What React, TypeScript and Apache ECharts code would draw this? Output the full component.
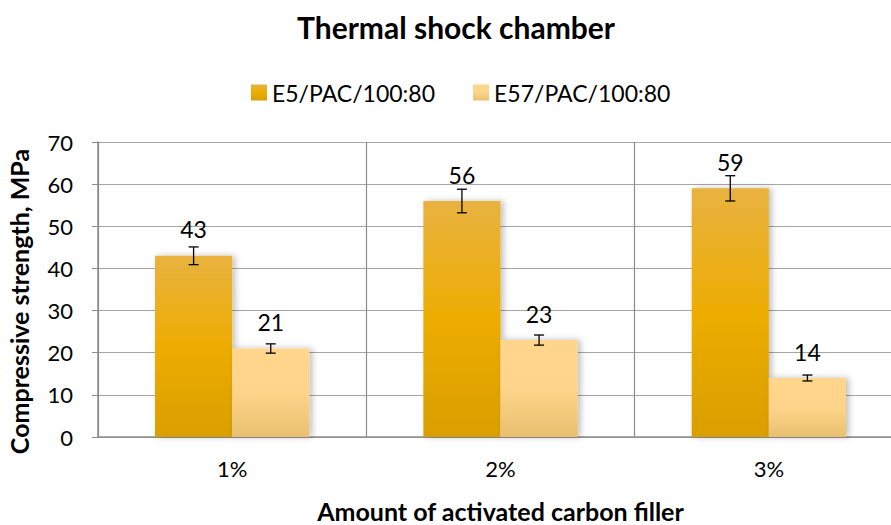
import React, { useEffect, useRef } from "react";
import * as echarts from "echarts";

const categories = ["1%", "2%", "3%"];
const seriesNames = ["E5/PAC/100:80", "E57/PAC/100:80"];
const e5Values = [43, 56, 59];
const e57Values = [21, 23, 14];
const e5Errors = [2.1, 2.8, 3.0];
const e57Errors = [1.1, 1.2, 0.7];
const yTicks = { min: 0, max: 70, interval: 10 };

const FONT = "Lato, 'Open Sans', sans-serif";

const darkGrad = () =>
  new echarts.graphic.LinearGradient(0, 0, 0, 1, [
    { offset: 0, color: "#E8B23F" },
    { offset: 0.5, color: "#EDAD02" },
    { offset: 1, color: "#D99F00" },
  ]);
const lightGrad = () =>
  new echarts.graphic.LinearGradient(0, 0, 0, 1, [
    { offset: 0, color: "#FFD68C" },
    { offset: 0.5, color: "#FED48A" },
    { offset: 1, color: "#E9BF6F" },
  ]);

const CAT_GAP = 0.425;

function errorSeries(values: number[], errs: number[], idx: number) {
  return {
    type: "custom",
    z: 10,
    silent: true,
    data: values.map((v, i) => [i, v, errs[i]]),
    renderItem: (params: any, api: any) => {
      const ci = api.value(0);
      const v = api.value(1);
      const e = api.value(2);
      const band = api.size([1, 0])[0];
      const bw = (band * (1 - CAT_GAP)) / 2;
      const offset = idx === 0 ? -bw / 2 : bw / 2;
      const hi = api.coord([ci, v + e]);
      const lo = api.coord([ci, v - e]);
      const x = hi[0] + offset;
      const cap = 5;
      const style = { stroke: "#000", lineWidth: 1.3 };
      return {
        type: "group",
        children: [
          { type: "line", shape: { x1: x, y1: hi[1], x2: x, y2: lo[1] }, style },
          { type: "line", shape: { x1: x - cap, y1: hi[1], x2: x + cap, y2: hi[1] }, style },
          { type: "line", shape: { x1: x - cap, y1: lo[1], x2: x + cap, y2: lo[1] }, style },
        ],
      };
    },
  };
}

export default function App() {
  const ref = useRef<HTMLDivElement>(null);
  useEffect(() => {
    if (!ref.current) return;
    const chart = echarts.init(ref.current, null, { renderer: "svg" });
    const barLabel = {
      show: true,
      position: "top",
      distance: 15,
      fontSize: 23,
      color: "#000",
      fontFamily: FONT,
    };
    chart.setOption({
      animation: false,
      backgroundColor: "#fff",
      textStyle: { fontFamily: FONT },
      title: {
        text: "Thermal shock chamber",
        left: 292,
        top: 7,
        textStyle: { fontFamily: FONT, fontSize: 30, fontWeight: "bold", color: "#000" },
      },
      legend: {
        top: 76,
        left: 246,
        itemWidth: 16,
        itemHeight: 16,
        itemGap: 38,
        icon: "rect",
        textStyle: { fontFamily: FONT, fontSize: 23, color: "#000" },
        data: seriesNames,
      },
      grid: {
        left: 98,
        width: 805,
        top: 142,
        height: 295,
        containLabel: false,
        outerBoundsMode: "none",
      },
      xAxis: {
        type: "category",
        data: categories,
        name: "Amount of activated carbon filler",
        nameLocation: "middle",
        nameGap: 61,
        nameTextStyle: { fontFamily: FONT, fontSize: 25, fontWeight: "bold", color: "#000" },
        axisLine: { lineStyle: { color: "#8c8c8c", width: 1.5 } },
        axisTick: { show: false },
        axisLabel: { margin: 20, fontSize: 22, color: "#000", fontFamily: FONT },
        splitLine: { show: true, lineStyle: { color: "#8c8c8c", width: 1.2 } },
      },
      yAxis: {
        type: "value",
        min: yTicks.min,
        max: yTicks.max,
        interval: yTicks.interval,
        name: "Compressive strength, MPa",
        nameLocation: "middle",
        nameGap: 67,
        nameTextStyle: {
          fontFamily: FONT,
          fontSize: 25,
          fontWeight: "bold",
          color: "#000",
          padding: [0, 24, 0, 0],
        },
        axisLine: { show: true, lineStyle: { color: "#8c8c8c", width: 1.5 } },
        axisTick: { show: true, inside: false, length: 6, lineStyle: { color: "#8c8c8c" } },
        axisLabel: { margin: 25, fontSize: 22, color: "#000", fontFamily: FONT },
        splitLine: { show: true, lineStyle: { color: "#a6a6a6", width: 1.2 } },
      },
      series: [
        {
          name: seriesNames[0],
          type: "bar",
          data: e5Values,
          barGap: "0%",
          barCategoryGap: CAT_GAP * 100 + "%",
          itemStyle: {
            color: darkGrad(),
            shadowColor: "rgba(0,0,0,0.25)",
            shadowBlur: 6,
            shadowOffsetX: 3,
          },
          label: barLabel,
        },
        {
          name: seriesNames[1],
          type: "bar",
          data: e57Values,
          barGap: "0%",
          barCategoryGap: CAT_GAP * 100 + "%",
          itemStyle: {
            color: lightGrad(),
            shadowColor: "rgba(0,0,0,0.25)",
            shadowBlur: 6,
            shadowOffsetX: 3,
          },
          label: barLabel,
        },
        errorSeries(e5Values, e5Errors, 0),
        errorSeries(e57Values, e57Errors, 1),
      ],
    });
    return () => chart.dispose();
  }, []);
  return (
    <div
      ref={ref}
      style={{ position: "fixed", left: 0, top: 0, width: 891, height: 525 }}
    />
  );
}
